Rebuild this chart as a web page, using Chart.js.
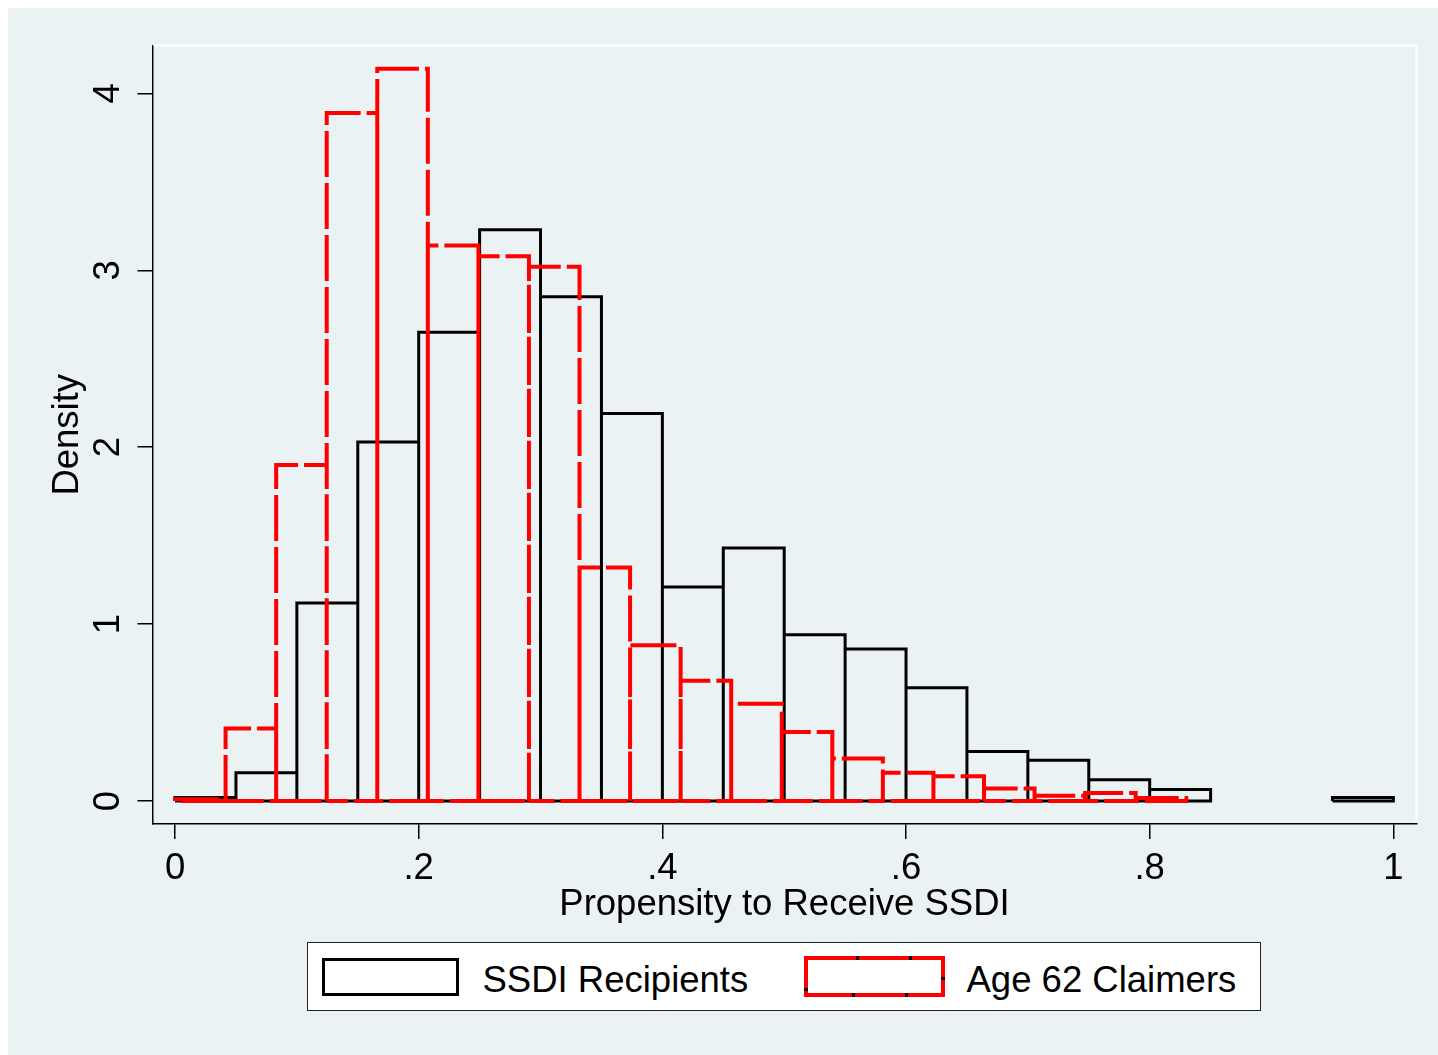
<!DOCTYPE html>
<html>
<head>
<meta charset="utf-8">
<title>Propensity to Receive SSDI</title>
<script src="https://cdn.jsdelivr.net/npm/chart.js@4.4.1/dist/chart.umd.min.js"></script>
<style>
    html, body { margin: 0; padding: 0; background: #fff; }
    #wrap { position: relative; width: 1438px; height: 1055px; }
    #chart { position: absolute; left: 0; top: 0; }
    #legend { position: absolute; left: 307px; top: 942px; }
</style>
</head>
<body>
<div id="wrap">
    <canvas id="chart" width="1438" height="1055"></canvas>
    <svg id="legend" width="955" height="70" xmlns="http://www.w3.org/2000/svg"></svg>
</div>
<script>
// Histogram bin edges (propensity score) and bar heights (density)
const ssdiEdges = [0, .05, .1, .15, .2, .25, .3, .35, .4, .45, .5, .55, .6, .65, .7, .75, .8, .85, .9, .95, 1];
const ssdiDensity = [0.02, 0.16, 1.12, 2.03, 2.65, 3.23, 2.85, 2.19, 1.21, 1.43, 0.94, 0.86, 0.64, 0.28, 0.23, 0.12, 0.065, 0, 0, 0.02];

const claimEdges = [0, .0415, .083, .1245, .166, .2075, .249, .2905, .332, .3735, .415, .4565, .498, .5395, .581, .6225, .664, .7055, .747, .7885, .83];
const claimDensity = [0.01, 0.41, 1.90, 3.89, 4.14, 3.14, 3.08, 3.02, 1.32, 0.88, 0.68, 0.55, 0.39, 0.24, 0.16, 0.14, 0.07, 0.03, 0.045, 0.017];

const seriesNames = ['SSDI Recipients', 'Age 62 Claimers'];

const xTicks = [0, .2, .4, .6, .8, 1];
const xTickLabels = ['0', '.2', '.4', '.6', '.8', '1'];
const yTicks = [0, 1, 2, 3, 4];
const yTickLabels = ['0', '1', '2', '3', '4'];

const xTitle = 'Propensity to Receive SSDI';
const yTitle = 'Density';

// Look (stata s2color-like)
const BG = '#eaf2f3';
const FONT = '"Liberation Sans", Arial, Helvetica, sans-serif';
const FONT_SIZE = 36.5;
const RED = '#ff0000';

Chart.defaults.font.family = FONT;
Chart.defaults.color = '#000';

/**
 * Turns bins into closed rectangle outlines (one sub-path per non-empty bar),
 * separated by null points so the line breaks between bars.
 */
function barOutlines(edges, heights) {
    const pts = [];
    heights.forEach((h, i) => {
        if (!h) return;
        const x0 = edges[i], x1 = edges[i + 1];
        pts.push({x: x0, y: 0}, {x: x0, y: h}, {x: x1, y: h}, {x: x1, y: 0}, {x: x0, y: 0});
        pts.push({x: x1, y: null});
    });
    return pts;
}

// background + the white plot-region frame
const backdrop = {
    id: 'backdrop',
    beforeDraw(chart) {
        const {ctx, width, height} = chart;
        ctx.save();
        ctx.fillStyle = '#fff';
        ctx.fillRect(0, 0, width, height);
        ctx.fillStyle = BG;
        ctx.fillRect(8, 8, width - 8, height - 8);
        ctx.restore();
    },
    beforeDatasetsDraw(chart) {
        const {ctx, chartArea: a} = chart;
        ctx.save();
        ctx.strokeStyle = '#fff';
        ctx.lineWidth = 2;
        ctx.beginPath();
        ctx.moveTo(a.left + 1, a.top);
        ctx.lineTo(a.right, a.top);
        ctx.lineTo(a.right, a.bottom - 1);
        ctx.stroke();
        ctx.restore();
    }
};

const axisCommon = {
    type: 'linear',
    grid: { display: true, drawOnChartArea: false, drawTicks: true, tickLength: 15, color: '#000', lineWidth: 1.5 },
    border: { display: true, color: '#000', width: 1.5 }
};

new Chart(document.getElementById('chart'), {
    type: 'line',
    data: {
        datasets: [
            {
                label: seriesNames[1],
                data: barOutlines(claimEdges, claimDensity),
                borderColor: RED,
                borderWidth: 4,
                borderDash: [46, 6],
                borderCapStyle: 'butt',
                borderJoinStyle: 'miter',
                pointRadius: 0,
                tension: 0,
                fill: false,
                spanGaps: false
            },
            {
                label: seriesNames[0],
                data: barOutlines(ssdiEdges, ssdiDensity),
                borderColor: '#000',
                borderWidth: 3,
                borderCapStyle: 'butt',
                borderJoinStyle: 'miter',
                pointRadius: 0,
                tension: 0,
                fill: false,
                spanGaps: false
            }
        ]
    },
    options: {
        responsive: false,
        devicePixelRatio: 1,
        animation: false,
        events: [],
        layout: { padding: { left: 0, right: 21.5, top: 45.5, bottom: 121 } },
        plugins: { legend: { display: false }, tooltip: { enabled: false } },
        scales: {
            x: {
                ...axisCommon,
                min: -0.0185,
                max: 1.019,
                afterBuildTicks: s => { s.ticks = xTicks.map(v => ({value: v})); },
                afterFit: s => { s.height = 110; },
                ticks: {
                    font: { size: FONT_SIZE }, color: '#000', padding: 7.8,
                    minRotation: 0, maxRotation: 0, autoSkip: false,
                    callback: (v, i) => xTickLabels[i]
                },
                title: { display: true, text: xTitle, font: { size: FONT_SIZE }, color: '#000', padding: { top: 0, bottom: 7 } }
            },
            y: {
                ...axisCommon,
                min: -0.13,
                max: 4.271,
                afterBuildTicks: s => { s.ticks = yTicks.map(v => ({value: v})); },
                afterFit: s => { s.width = 152.5; },
                ticks: {
                    font: { size: FONT_SIZE }, color: '#000', padding: 18.5,
                    minRotation: 90, maxRotation: 90, crossAlign: 'center', autoSkip: false,
                    callback: (v, i) => yTickLabels[i]
                },
                title: { display: true, text: yTitle, font: { size: FONT_SIZE }, color: '#000', padding: { top: 46.5, bottom: 0 } }
            }
        }
    },
    plugins: [backdrop]
});

// Stata-style legend box under the plot
function buildLegend() {
    const svg = document.getElementById('legend');
    const ns = 'http://www.w3.org/2000/svg';
    const add = (tag, attrs, text) => {
        const el = document.createElementNS(ns, tag);
        Object.entries(attrs).forEach(([k, v]) => el.setAttribute(k, v));
        if (text) el.textContent = text;
        svg.appendChild(el);
        return el;
    };
    add('rect', { x: 0.5, y: 0.5, width: 953, height: 68, fill: '#fff', stroke: '#222', 'stroke-width': 1 });
    // black key
    add('rect', { x: 16.5, y: 17.5, width: 134, height: 35, fill: '#fff', stroke: '#000', 'stroke-width': 3 });
    add('text', { x: 175.5, y: 49.5, 'font-family': FONT, 'font-size': FONT_SIZE, fill: '#000' }, seriesNames[0]);
    // red dashed key (gaps show dark, as in the original)
    add('rect', { x: 499, y: 16, width: 137, height: 37, fill: '#fff', stroke: '#000', 'stroke-width': 4 });
    add('rect', { x: 499, y: 16, width: 137, height: 37, fill: 'none', stroke: RED, 'stroke-width': 4, 'stroke-dasharray': '50 3' });
    add('text', { x: 659.5, y: 49.5, 'font-family': FONT, 'font-size': FONT_SIZE, fill: '#000' }, seriesNames[1]);
}
buildLegend();
</script>
</body>
</html>
